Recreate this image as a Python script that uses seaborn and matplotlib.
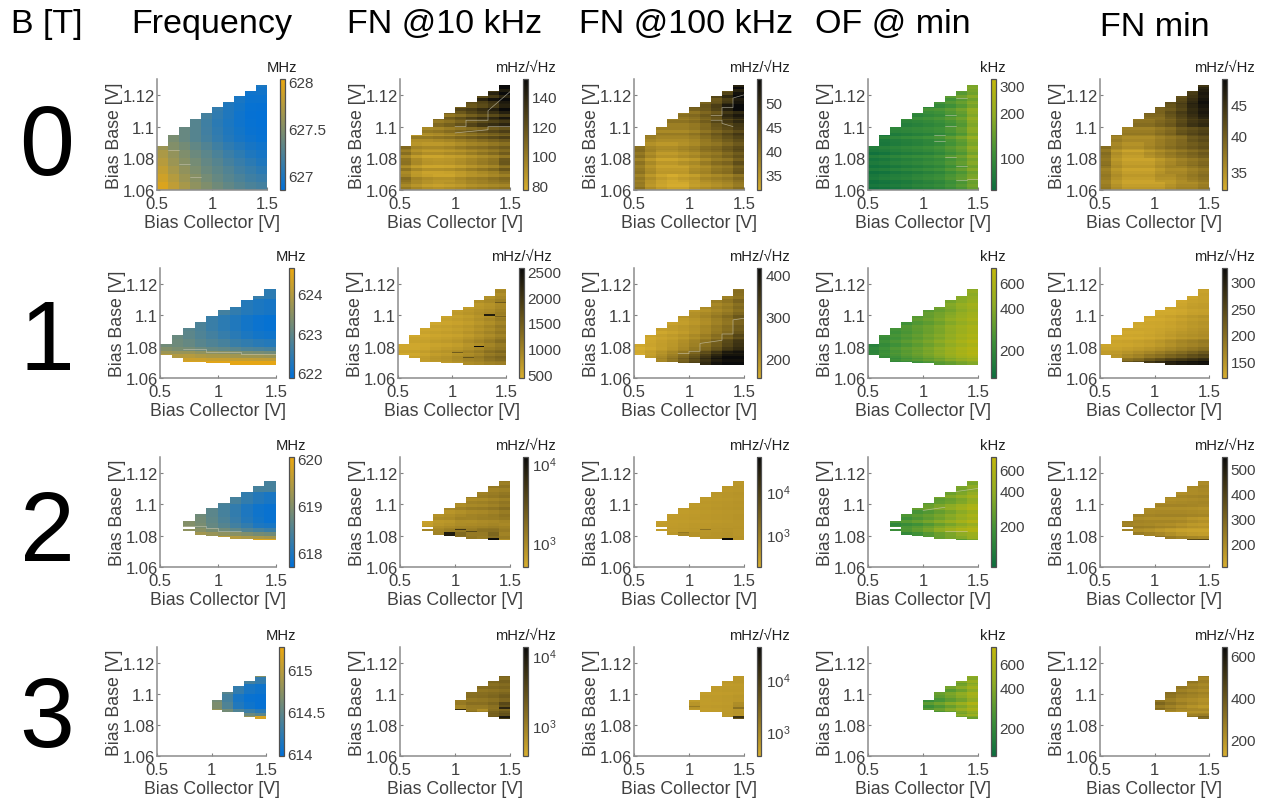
import numpy as np
import pandas as pd
import matplotlib
matplotlib.use("Agg")
import matplotlib.pyplot as plt
import seaborn as sns
from matplotlib.colors import LinearSegmentedColormap, LogNorm, Normalize

n = np.nan

FIELD_LABELS = ["0", "1", "2", "3"]
COLUMN_TITLES = ["Frequency", "FN @10 kHz", "FN @100 kHz", "OF @ min", "FN min"]

# Outline of the measured region, one value per 0.1 V collector column
TOPS_B0 = [1.0875, 1.0945, 1.0995, 1.105, 1.1085, 1.1125, 1.1155, 1.1195, 1.1225, 1.1265]
BOTTOMS_B0 = [1.06] * 10
TOPS_B1 = [1.0816, 1.0876, 1.0918, 1.0954, 1.0997, 1.1028, 1.1056, 1.1096, 1.1126, 1.1166]
BOTTOMS_B1 = [1.0746, 1.0727, 1.0706, 1.0706, 1.0695, 1.0695, 1.0687, 1.0687, 1.0687, 1.0687]
TOPS_B2 = [n, n, 1.0888, 1.0934, 1.0976, 1.1008, 1.1046, 1.1078, 1.1114, 1.1146]
BOTTOMS_B2 = [n, n, 1.0828, 1.0807, 1.0797, 1.079, 1.078, 1.078, 1.0771, 1.0771]
TOPS_B3 = [n, n, n, n, n, 1.0958, 1.1009, 1.1051, 1.1078, 1.1117]
BOTTOMS_B3 = [n, n, n, n, n, 1.0893, 1.0885, 1.0878, 1.0851, 1.0836]

# Bias base bands of the value tables, top to bottom
EDGES_B0 = [1.13, 1.125, 1.12, 1.115, 1.11, 1.105, 1.10, 1.095, 1.09, 1.085, 1.08, 1.075, 1.07, 1.065, 1.06]
EDGES_B1 = [1.12, 1.11, 1.10, 1.09, 1.085, 1.08, 1.077, 1.075, 1.073, 1.071, 1.068]
EDGES_B2 = [1.116, 1.108, 1.10, 1.092, 1.088, 1.085, 1.082, 1.08, 1.078, 1.076]
EDGES_B3 = [1.113, 1.1105, 1.106, 1.10, 1.095, 1.09, 1.0875, 1.0855, 1.083]

FREQ_B0 = [
    [n, n, n, n, n, n, n, n, n, 626.98],
    [n, n, n, n, n, n, n, n, 626.92, 626.93],
    [n, n, n, n, n, n, 627.03, 626.97, 626.90, 626.90],
    [n, n, n, n, n, 627.10, 627.00, 626.94, 626.88, 626.87],
    [n, n, n, n, 627.18, 627.08, 627.00, 626.92, 626.87, 626.86],
    [n, n, n, 627.27, 627.16, 627.06, 626.98, 626.92, 626.88, 626.86],
    [n, n, 627.36, 627.27, 627.17, 627.08, 627.00, 626.94, 626.89, 626.87],
    [n, 627.45, 627.36, 627.27, 627.18, 627.10, 627.02, 626.96, 626.91, 626.88],
    [627.62, 627.50, 627.42, 627.33, 627.25, 627.16, 627.08, 627.02, 626.96, 626.92],
    [627.70, 627.58, 627.48, 627.38, 627.30, 627.22, 627.14, 627.07, 627.00, 626.96],
    [627.76, 627.62, 627.52, 627.43, 627.34, 627.27, 627.19, 627.12, 627.06, 627.00],
    [627.82, 627.68, 627.57, 627.47, 627.38, 627.31, 627.24, 627.17, 627.11, 627.06],
    [627.88, 627.75, 627.62, 627.52, 627.43, 627.35, 627.28, 627.22, 627.16, 627.12],
    [627.94, 627.80, 627.68, 627.56, 627.48, 627.40, 627.33, 627.27, 627.22, 627.18],
]
FN10_B0 = [
    [n, n, n, n, n, n, n, n, n, 145],
    [n, n, n, n, n, n, n, n, 135, 148],
    [n, n, n, n, n, n, 125, 130, 138, 150],
    [n, n, n, n, n, 118, 122, 128, 135, 148],
    [n, n, n, n, 110, 115, 122, 128, 132, 140],
    [n, n, n, 102, 106, 112, 118, 124, 128, 132],
    [n, n, 98, 100, 104, 108, 112, 116, 120, 124],
    [n, 94, 94, 96, 98, 102, 106, 110, 114, 118],
    [104, 92, 90, 90, 92, 96, 100, 102, 106, 110],
    [100, 90, 86, 86, 88, 90, 94, 98, 102, 108],
    [100, 90, 85, 84, 85, 88, 92, 96, 100, 112],
    [96, 88, 84, 84, 85, 88, 92, 96, 100, 108],
    [102, 92, 88, 86, 86, 90, 94, 96, 100, 104],
    [98, 92, 88, 86, 88, 90, 94, 96, 98, 100],
]
FN100_B0 = [
    [n, n, n, n, n, n, n, n, n, 50],
    [n, n, n, n, n, n, n, n, 46, 53],
    [n, n, n, n, n, n, 43, 45, 49, 54],
    [n, n, n, n, n, 42, 43, 46, 51, 54],
    [n, n, n, n, 40, 41, 43, 45, 50, 52],
    [n, n, n, 39, 39, 40, 42, 45, 47, 49],
    [n, n, 38, 38, 38, 39, 41, 43, 45, 47],
    [n, 38, 37, 37, 37, 38, 40, 42, 44, 46],
    [40, 37, 36, 36, 37, 38, 40, 41, 43, 45],
    [40, 37, 35, 35, 36, 37, 39, 40, 42, 44],
    [39, 36, 34, 34, 35, 36, 38, 40, 41, 44],
    [39, 36, 34, 34, 34, 36, 37, 39, 40, 43],
    [39, 36, 34, 33, 34, 35, 37, 38, 39, 41],
    [40, 36, 34, 33, 33, 35, 36, 37, 38, 40],
]
OF_B0 = [
    [n, n, n, n, n, n, n, n, n, 150],
    [n, n, n, n, n, n, n, n, 130, 155],
    [n, n, n, n, n, n, 105, 117, 135, 160],
    [n, n, n, n, n, 98, 103, 115, 135, 170],
    [n, n, n, n, 92, 97, 103, 117, 135, 180],
    [n, n, n, 88, 92, 97, 104, 117, 135, 185],
    [n, n, 82, 85, 88, 92, 98, 111, 130, 175],
    [n, 76, 80, 84, 88, 94, 102, 120, 140, 180],
    [72, 76, 80, 84, 88, 94, 102, 117, 135, 175],
    [71, 74, 80, 84, 88, 92, 100, 115, 132, 170],
    [70, 73, 78, 82, 86, 92, 98, 113, 130, 165],
    [70, 72, 76, 80, 84, 90, 96, 111, 128, 160],
    [68, 72, 75, 78, 84, 90, 96, 110, 125, 155],
    [68, 70, 74, 78, 84, 88, 94, 107, 122, 150],
]
FNMIN_B0 = [
    [n, n, n, n, n, n, n, n, n, 45],
    [n, n, n, n, n, n, n, n, 43, 47],
    [n, n, n, n, n, n, 41, 42, 45, 48],
    [n, n, n, n, n, 40, 41, 43, 46, 48],
    [n, n, n, n, 39, 39, 41, 43, 45, 47],
    [n, n, n, 38, 38, 39, 40, 42, 44, 45],
    [n, n, 37, 37, 37, 38, 39, 41, 42, 43],
    [n, 37, 36, 36, 36, 37, 38, 39, 41, 42],
    [38, 36, 35, 35, 36, 37, 38, 39, 40, 41],
    [38, 35, 34, 34, 35, 36, 37, 38, 39, 40],
    [38, 35, 34, 34, 34, 35, 36, 37, 38, 39],
    [37, 35, 34, 34, 34, 35, 36, 36, 37, 38],
    [37, 35, 34, 34, 34, 35, 35, 36, 37, 38],
    [37, 35, 34, 34, 34, 34, 35, 36, 36, 37],
]

FREQ_B1 = [
    [n, n, n, n, n, n, n, n, 622.5, 622.4],
    [n, n, n, n, n, 622.65, 622.45, 622.3, 622.2, 622.15],
    [n, n, 622.9, 622.75, 622.55, 622.4, 622.25, 622.1, 622.0, 621.95],
    [n, 623.1, 622.95, 622.8, 622.65, 622.5, 622.35, 622.2, 622.1, 622.05],
    [623.2, 623.15, 623.05, 622.9, 622.8, 622.7, 622.55, 622.45, 622.35, 622.3],
    [623.4, 623.3, 623.25, 623.15, 623.05, 623.0, 622.9, 622.8, 622.75, 622.7],
    [623.7, 623.65, 623.65, 623.55, 623.5, 623.45, 623.35, 623.3, 623.25, 623.2],
    [624.0, 623.95, 624.0, 623.9, 623.85, 623.85, 623.75, 623.7, 623.7, 623.65],
    [624.2, 624.2, 624.25, 624.25, 624.2, 624.2, 624.15, 624.15, 624.1, 624.1],
    [624.3, 624.3, 624.4, 624.4, 624.5, 624.5, 624.55, 624.55, 624.55, 624.55],
]
FN10_B1 = [
    [n, n, n, n, n, n, n, n, 800, 900],
    [n, n, n, n, n, 620, 680, 760, 830, 950],
    [n, n, 560, 570, 600, 640, 700, 800, 900, 1050],
    [n, 540, 540, 570, 600, 640, 720, 820, 920, 1050],
    [540, 540, 560, 600, 630, 680, 780, 880, 1000, 1150],
    [530, 540, 570, 640, 700, 750, 850, 950, 1100, 1200],
    [540, 550, 600, 680, 720, 800, 900, 1000, 1150, 1250],
    [540, 560, 620, 700, 750, 850, 950, 1050, 1200, 1300],
    [540, 560, 640, 720, 760, 850, 950, 1000, 1150, 1250],
    [540, 560, 620, 680, 720, 800, 900, 950, 1050, 1100],
]
FN100_B1 = [
    [n, n, n, n, n, n, n, n, 230, 250],
    [n, n, n, n, n, 195, 205, 220, 235, 260],
    [n, n, 175, 178, 185, 195, 210, 230, 250, 280],
    [n, 165, 172, 180, 190, 205, 225, 250, 275, 310],
    [160, 165, 175, 185, 200, 220, 245, 275, 310, 340],
    [158, 170, 185, 200, 220, 245, 275, 310, 350, 375],
    [160, 175, 195, 215, 240, 270, 305, 345, 385, 395],
    [160, 180, 205, 230, 260, 295, 335, 375, 405, 405],
    [160, 185, 215, 245, 280, 315, 355, 390, 410, 410],
    [160, 190, 220, 250, 285, 320, 360, 395, 410, 410],
]
OF_B1 = [
    [n, n, n, n, n, n, n, n, 380, 420],
    [n, n, n, n, n, 290, 320, 360, 420, 480],
    [n, n, 230, 250, 280, 310, 350, 410, 470, 530],
    [n, 215, 235, 260, 290, 330, 370, 430, 500, 560],
    [190, 215, 240, 270, 300, 340, 390, 450, 520, 590],
    [190, 220, 250, 280, 310, 350, 400, 470, 540, 600],
    [190, 225, 255, 285, 320, 360, 410, 480, 550, 610],
    [190, 215, 240, 270, 300, 340, 390, 450, 520, 570],
    [190, 195, 215, 240, 265, 295, 330, 380, 430, 480],
    [180, 180, 190, 205, 225, 250, 280, 310, 350, 390],
]
FNMIN_B1 = [
    [n, n, n, n, n, n, n, n, 130, 135],
    [n, n, n, n, n, 125, 125, 128, 135, 138],
    [n, n, 125, 125, 126, 128, 132, 138, 145, 150],
    [n, 126, 126, 127, 130, 135, 142, 150, 155, 160],
    [130, 128, 130, 133, 138, 145, 155, 165, 172, 180],
    [135, 135, 140, 145, 152, 160, 170, 180, 190, 200],
    [140, 142, 150, 158, 168, 178, 190, 200, 212, 225],
    [145, 150, 165, 175, 190, 200, 215, 225, 240, 250],
    [150, 165, 195, 205, 225, 240, 255, 265, 275, 285],
    [150, 180, 225, 240, 265, 280, 295, 305, 310, 315],
]

FREQ_B2 = [
    [n, n, n, n, n, n, 618.4, 618.4],
    [n, n, n, 618.5, 618.4, 618.2, 618.05, 617.95],
    [n, 618.8, 618.6, 618.4, 618.2, 618.0, 617.85, 617.8],
    [619.0, 618.85, 618.65, 618.45, 618.25, 618.05, 617.9, 617.8],
    [619.0, 618.9, 618.7, 618.55, 618.35, 618.2, 618.0, 617.95],
    [619.1, 619.05, 618.9, 618.8, 618.65, 618.5, 618.4, 618.3],
    [619.3, 619.3, 619.2, 619.1, 619.05, 618.95, 618.85, 618.8],
    [619.5, 619.6, 619.6, 619.55, 619.5, 619.4, 619.35, 619.3],
    [619.5, 619.6, 619.7, 619.8, 619.85, 619.85, 619.9, 619.9],
]
FN10_B2 = [
    [n, n, n, n, n, n, 1200, 1300],
    [n, n, n, 900, 1050, 1100, 1200, 1350],
    [n, 800, 850, 950, 1050, 1100, 1200, 1400],
    [680, 820, 850, 1000, 980, 1050, 1100, 1200],
    [680, 820, 880, 980, 1000, 1050, 1100, 1050],
    [900, 900, 1050, 1200, 1100, 1300, 1350, 1100],
    [800, 1200, 9000, 2000, 1450, 1450, 2100, 1200],
    [800, 950, 1200, 1500, 1350, 1200, 1600, 1200],
    [800, 800, 800, 950, 880, 880, 950, 950],
]
FN100_B2 = [
    [n, n, n, n, n, n, 400, 420],
    [n, n, n, 360, 380, 400, 420, 440],
    [n, 340, 350, 370, 390, 410, 430, 450],
    [330, 340, 350, 370, 380, 400, 420, 440],
    [330, 345, 355, 380, 390, 410, 420, 430],
    [340, 360, 380, 400, 420, 440, 460, 440],
    [340, 420, 700, 500, 450, 470, 500, 450],
    [340, 360, 400, 430, 440, 440, 480, 440],
    [330, 340, 350, 370, 380, 400, 450, 420],
]
OF_B2 = [
    [n, n, n, n, n, n, 280, 330],
    [n, n, n, 230, 260, 290, 340, 420],
    [n, 190, 215, 240, 280, 330, 400, 480],
    [165, 190, 215, 250, 295, 350, 420, 500],
    [160, 185, 205, 240, 290, 340, 400, 470],
    [160, 195, 230, 280, 350, 430, 510, 560],
    [160, 170, 200, 240, 290, 340, 410, 480],
    [160, 165, 175, 195, 230, 270, 300, 380],
    [150, 160, 165, 180, 200, 210, 250, 330],
]
FNMIN_B2 = [
    [n, n, n, n, n, n, 195, 205],
    [n, n, n, 190, 195, 200, 205, 210],
    [n, 205, 200, 205, 205, 205, 200, 195],
    [220, 210, 205, 205, 205, 200, 185, 175],
    [230, 220, 215, 205, 200, 185, 170, 165],
    [230, 195, 185, 170, 155, 145, 140, 140],
    [230, 230, 215, 200, 180, 160, 150, 145],
    [230, 240, 260, 270, 250, 230, 220, 210],
    [230, 240, 270, 310, 330, 350, 360, 370],
]

FREQ_B3 = [
    [n, n, n, n, 614.7],
    [n, n, n, 614.35, 614.25],
    [n, 614.45, 614.25, 614.1, 614.05],
    [614.6, 614.35, 614.1, 614.02, 614.0],
    [614.65, 614.4, 614.15, 614.05, 614.0],
    [614.8, 614.6, 614.4, 614.3, 614.2],
    [614.8, 614.7, 614.65, 614.55, 614.45],
    [614.8, 614.7, 614.7, 614.8, 615.15],
]
FN10_B3 = [
    [n, n, n, n, 1700],
    [n, n, n, 1500, 1700],
    [n, 1300, 1350, 1450, 1600],
    [1200, 1300, 1350, 1500, 1850],
    [950, 1200, 1200, 1450, 2800],
    [2500, 1200, 800, 1600, 2000],
    [1200, 1200, 1200, 1750, 2400],
    [1200, 1200, 1200, 2000, 5000],
]
FN100_B3 = [
    [n, n, n, n, 650],
    [n, n, n, 620, 650],
    [n, 560, 580, 600, 620],
    [560, 560, 580, 600, 640],
    [700, 570, 590, 620, 900],
    [600, 570, 580, 620, 700],
    [580, 570, 580, 640, 700],
    [580, 570, 580, 700, 5000],
]
OF_B3 = [
    [n, n, n, n, 400],
    [n, n, n, 340, 420],
    [n, 270, 310, 370, 470],
    [240, 270, 320, 380, 480],
    [240, 280, 340, 410, 520],
    [240, 285, 350, 420, 500],
    [230, 260, 310, 380, 450],
    [230, 240, 250, 300, 340],
]
FNMIN_B3 = [
    [n, n, n, n, 270],
    [n, n, n, 280, 255],
    [n, 300, 280, 260, 245],
    [320, 290, 260, 245, 230],
    [310, 275, 245, 220, 200],
    [280, 245, 220, 220, 220],
    [290, 275, 250, 250, 260],
    [290, 275, 265, 290, 340],
]

# Row to row scatter in percent, one entry per 2 mV from the top of each field's bands
STRIPE_FN10_B0 = [2, -3, 4, -2, 3, -4, 5, -2, -3, 4, 1, -5, 3, -1, 4, -3, 2, -4, 5, -2, -3, 3, -1, 4, -4, 2, 3, -3, 5, -2, -4, 3, 1, -3, 2]
STRIPE_FN100_B0 = [1, -1, 2, -2, 1, 2, -2, -1, 2, 1, -2, 1, -1, 2, -1, 1, -2, 2, 1, -1, -2, 1, 2, -1, 1, -2, 2, -1, 1, 2, -2, 1, -1, -2, 1]
STRIPE_OF_B0 = [3, -4, 6, 2, -3, 8, -5, 4, -6, 10, 2, -4, 7, -2, -7, 5, 3, -6, 9, -3, -5, 6, 1, -7, 8, -2, 4, -5, 7, -6, 3, 6, -4, 2, -5]
STRIPE_FNMIN_B0 = [0, 1, -1, 0, 1, -1, 0, 1, 0, -1, 1, 0, -1, 0, 1, -1, 0, 1, -1, 0, 0, 1, -1, 1, 0, -1, 0, 1, -1, 0, 1, 0, -1, 0, 1]
STRIPE_FN10_B1 = [3, -4, 5, -3, 2, 6, -4, -2, 4, 8, -3, 2, -5, 4, -2, 5, -4, 3, 7, -3, -2, 6, -5, 4, 2, -3]
STRIPE_FN100_B1 = [1, -2, 2, 1, -1, 3, -2, 1, -2, 2, 3, -1, -2, 2, 1, -3, 2, -1, 1, 2, -2, 1, -1, 2, -1, 1]
STRIPE_OF_B1 = [2, -3, 4, -2, 3, -4, 5, 2, -3, 4, -2, 3, -5, 4, 2, -3, 3, -2, 4, -4, 3, -2, 2, -3, 3, -2]
STRIPE_FNMIN_B1 = [0, 1, -1, 1, 0, -1, 1, 2, -1, 0, 1, -2, 1, 0, 2, -1, 1, -2, 2, 0, -1, 1, 0, -1, 1, 0]
STRIPE_FN10_B2 = [4, -5, 8, -6, 3, 10, -8, 5, -4, 14, -6, 4, 9, -7, -3, 6, 12, -5, 4, -4]
STRIPE_FN100_B2 = [1, -2, 2, -1, 2, 1, -2, 3, -1, 2, -2, 1, 3, -2, 1, 2, -1, -2, 2, 1]
STRIPE_OF_B2 = [4, -6, 8, 3, -5, 10, -6, -3, 8, 12, -7, 6, -4, 14, -8, 7, 4, -6, 8, -6]
STRIPE_FNMIN_B2 = [2, -2, 3, 1, -3, 4, -2, 2, 5, -4, 1, 6, -4, 3, -3, 5, -2, 3, -2, 2]
STRIPE_FN10_B3 = [5, -6, 8, -4, 7, -8, 5, 9, -7, 12, -5, -8, 10, 6, -5]
STRIPE_FN100_B3 = [1, -1, 2, -2, 1, 2, -2, 3, 1, -2, 2, -1, 1, -2, 2]
STRIPE_OF_B3 = [6, -5, 10, -6, 8, -8, 12, 5, -7, 14, -6, 9, -8, 7, -5]
STRIPE_FNMIN_B3 = [2, -3, 4, -2, 3, -4, 5, 3, -5, 8, -4, 6, -3, 4, -2]

# How strongly the scatter shows in each quantity
STRIPE_GAIN = [0, 1.5, 1.5, 1.4, 1.5]

# Single outlier cells: panel (field, column), collector column, y low, y high, value
OUTLIERS = [
    (1, 1, 7, 1.0795, 1.0805, 2550), (1, 1, 8, 1.0995, 1.1005, 2300), (1, 1, 6, 1.0725, 1.0735, 1600),
    (1, 1, 9, 1.108, 1.1085, 1500), (1, 1, 9, 1.099, 1.0995, 1400), (1, 1, 5, 1.076, 1.0765, 1500),
    (2, 1, 8, 1.0775, 1.0785, 11000), (2, 1, 5, 1.0835, 1.0845, 5000), (2, 1, 6, 1.0825, 1.083, 3500),
    (2, 2, 8, 1.0775, 1.0785, 55000), (2, 2, 6, 1.0835, 1.0845, 1500), (2, 2, 4, 1.0815, 1.0825, 1200),
    (3, 1, 9, 1.0845, 1.0855, 9000), (3, 1, 5, 1.0895, 1.09, 6000), (3, 1, 9, 1.0905, 1.0915, 7000),
    (3, 2, 9, 1.0845, 1.0855, 12000), (3, 2, 9, 1.0905, 1.0915, 2000), (3, 2, 5, 1.0915, 1.092, 1500),
]

# Pale polylines left by the sweep: panel (field, column), collector values, base values
SEAMS = [
    (0, 0, [0.6, 0.7], [1.0852, 1.0852]), (0, 0, [0.7, 0.8], [1.0765, 1.0765]), (0, 0, [0.8, 0.9], [1.068, 1.068]),
    (0, 1, [1.0, 1.1, 1.1, 1.3, 1.3, 1.5], [1.1, 1.1, 1.104, 1.104, 1.11, 1.122]),
    (0, 1, [1.0, 1.3, 1.3, 1.5], [1.096, 1.098, 1.1, 1.1]),
    (0, 2, [1.2, 1.3, 1.3, 1.4, 1.4, 1.5], [1.107, 1.107, 1.112, 1.112, 1.118, 1.12]),
    (0, 2, [1.2, 1.3, 1.3, 1.4], [1.104, 1.104, 1.102, 1.1]),
    (0, 3, [1.2, 1.3], [1.107, 1.107]), (0, 3, [1.1, 1.2], [1.095, 1.095]), (0, 3, [1.3, 1.4], [1.118, 1.118]),
    (0, 3, [1.2, 1.3], [1.081, 1.081]), (0, 3, [1.3, 1.4], [1.075, 1.075]), (0, 3, [1.4, 1.5], [1.067, 1.067]),
    (0, 3, [1.3, 1.4], [1.066, 1.066]), (0, 3, [1.1, 1.2], [1.091, 1.091]), (0, 3, [1.2, 1.3], [1.1005, 1.1005]),
    (1, 0, [0.7, 0.9, 0.9, 1.2, 1.2, 1.5], [1.0785, 1.0785, 1.0765, 1.0765, 1.075, 1.075]),
    (1, 2, [0.9, 1.0, 1.0, 1.1, 1.1, 1.3, 1.3, 1.4, 1.4, 1.5], [1.0755, 1.0755, 1.077, 1.077, 1.082, 1.084, 1.088, 1.088, 1.097, 1.098]),
    (2, 0, [0.7, 0.9, 0.9, 1.0, 1.0, 1.2], [1.086, 1.086, 1.0845, 1.0845, 1.083, 1.083]),
    (2, 3, [1.0, 1.2], [1.096, 1.098]), (2, 3, [1.3, 1.5], [1.108, 1.11]), (2, 3, [1.2, 1.4], [1.083, 1.083]),
]

# Colour scale limits and tick values of each panel
LIMITS = [
    [(626.84, 628.03), (76.8, 152), (31.9, 54.8), (60.5, 332), (32.7, 49.4)],
    [(621.87, 624.64), (436, 2564), (154, 415), (127, 756), (118.7, 326)],
    [(617.7, 620.04), (483, 11930), (182, 60000), (89, 762), (107, 547)],
    [(613.965, 615.27), (359, 12930), (340, 40340), (122.5, 796), (122, 641)],
]
LOG_SCALE = [
    [False, False, False, True, True],
    [False, False, False, True, False],
    [False, True, True, True, False],
    [False, True, True, True, False],
]
CBAR_TICKS = [
    [[627, 627.5, 628], [80, 100, 120, 140], [35, 40, 45, 50], [100, 200, 300], [35, 40, 45]],
    [[622, 623, 624], [500, 1000, 1500, 2000, 2500], [200, 300, 400], [200, 400, 600], [150, 200, 250, 300]],
    [[618, 619, 620], [1000, 10000], [1000, 10000], [200, 400, 600], [200, 300, 400, 500]],
    [[614, 614.5, 615], [1000, 10000], [1000, 10000], [200, 400, 600], [200, 400, 600]],
]
UNITS = ["MHz", "mHz/\u221aHz", "mHz/\u221aHz", "kHz", "mHz/\u221aHz"]

COLLECTOR_LABELS = ["0.5", "1", "1.5"]
COLLECTOR_TICKS = [0.5, 1.0, 1.5]
BASE_LABELS = ["1.06", "1.08", "1.1", "1.12"]
BASE_TICKS = [1.06, 1.08, 1.10, 1.12]

TABLES = [
    [FREQ_B0, FN10_B0, FN100_B0, OF_B0, FNMIN_B0],
    [FREQ_B1, FN10_B1, FN100_B1, OF_B1, FNMIN_B1],
    [FREQ_B2, FN10_B2, FN100_B2, OF_B2, FNMIN_B2],
    [FREQ_B3, FN10_B3, FN100_B3, OF_B3, FNMIN_B3],
]
STRIPES = [
    [None, STRIPE_FN10_B0, STRIPE_FN100_B0, STRIPE_OF_B0, STRIPE_FNMIN_B0],
    [None, STRIPE_FN10_B1, STRIPE_FN100_B1, STRIPE_OF_B1, STRIPE_FNMIN_B1],
    [None, STRIPE_FN10_B2, STRIPE_FN100_B2, STRIPE_OF_B2, STRIPE_FNMIN_B2],
    [None, STRIPE_FN10_B3, STRIPE_FN100_B3, STRIPE_OF_B3, STRIPE_FNMIN_B3],
]
TOPS = [TOPS_B0, TOPS_B1, TOPS_B2, TOPS_B3]
BOTTOMS = [BOTTOMS_B0, BOTTOMS_B1, BOTTOMS_B2, BOTTOMS_B3]
EDGES = [EDGES_B0, EDGES_B1, EDGES_B2, EDGES_B3]

W, H = 1268, 804
Y_TOP, Y_BOTTOM, Y_STEP = 1.13, 1.06, 0.0005
ROW_PX = [(80, 191), (269, 379), (458, 568), (648, 757)]
COL_PX = [
    [(157, 267), (160, 276), (160, 276), (157, 266)],
    [(400, 510), (398, 506), (400, 510), (400, 510)],
    [(634, 744)] * 4,
    [(868, 978)] * 4,
    [(1100, 1209)] * 4,
]

sns.set_theme(style="white")
plt.rcParams["font.family"] = ["Liberation Sans", "DejaVu Sans"]

GRAY = "#404040"
freq_cmap = LinearSegmentedColormap.from_list("freq", ["#0070d8", "#eca80f"])
noise_cmap = LinearSegmentedColormap.from_list("noise", ["#d6ad2e", "#0a0a0a"])
offset_cmap = LinearSegmentedColormap.from_list("offset", ["#0c6e3e", "#3f9138", "#8fac24", "#c4b80a"])
CMAPS = [freq_cmap, noise_cmap, noise_cmap, offset_cmap, noise_cmap]


def build_grid(row, col):
    """Expand one value table onto the fine bias base grid and clip it to the region."""
    table = np.array(TABLES[row][col], dtype=float)
    edges = np.array(EDGES[row])
    stripe = STRIPES[row][col]
    offset = 10 - table.shape[1]
    n_rows = int(round((Y_TOP - Y_BOTTOM) / Y_STEP))
    y_centers = Y_TOP - (np.arange(n_rows) + 0.5) * Y_STEP
    grid = np.full((n_rows, 10), np.nan)
    for i, y in enumerate(y_centers):
        if y >= edges[0] or y <= edges[-1]:
            continue
        band = np.searchsorted(-edges, -y) - 1
        factor = 1.0
        if stripe is not None:
            idx = min(int((edges[0] - y) / 0.002), len(stripe) - 1)
            factor = 1 + STRIPE_GAIN[col] * stripe[idx] / 100
        for c in range(offset, 10):
            if BOTTOMS[row][c] < y < TOPS[row][c]:
                grid[i, c] = table[band, c - offset] * factor
    for r, c, k, lo, hi, value in OUTLIERS:
        if r == row and c == col:
            hit = (y_centers > lo) & (y_centers < hi) & (y_centers > BOTTOMS[row][k]) & (y_centers < TOPS[row][k])
            grid[hit, k] = value
    if row == 2:
        # the gap in the first swept column at 2 T
        grid[(y_centers > 1.0843) & (y_centers < 1.0856), 2] = np.nan
    return pd.DataFrame(grid, index=np.round(y_centers, 5), columns=np.arange(10))


def to_x(v):
    return (np.asarray(v) - 0.5) / 0.1


def to_y(v):
    return (Y_TOP - np.asarray(v)) / Y_STEP


def log_label(value):
    return "$\\mathregular{10^{%d}}$" % round(np.log10(value))


fig = plt.figure(figsize=(W / 100, H / 100), dpi=100)

for row in range(4):
    top, bottom = ROW_PX[row]
    for col in range(5):
        left, right = COL_PX[col][row]
        ax = fig.add_axes([left / W, 1 - bottom / H, (right - left) / W, (bottom - top) / H])
        cax = fig.add_axes([(right + 13) / W, 1 - bottom / H, 4.5 / W, (bottom - top) / H])
        vmin, vmax = LIMITS[row][col]
        is_log = LOG_SCALE[row][col]
        norm = LogNorm(vmin, vmax) if is_log else Normalize(vmin, vmax)
        sns.heatmap(build_grid(row, col), ax=ax, cbar_ax=cax, cmap=CMAPS[col], norm=norm,
                    xticklabels=False, yticklabels=False, rasterized=True)

        for r, c, xs, ys in SEAMS:
            if r == row and c == col:
                ax.plot(to_x(xs), to_y(ys), color="#cfcbb8", lw=0.5, alpha=0.7)

        ax.set_xticks(to_x(COLLECTOR_TICKS))
        ax.set_xticklabels(COLLECTOR_LABELS)
        ax.set_yticks(to_y(BASE_TICKS))
        ax.set_yticklabels(BASE_LABELS, rotation=0)
        ax.tick_params(axis="x", direction="in", length=2, width=0.8, color="#808080", labelsize=12,
                       labelcolor=GRAY, pad=4.5, bottom=True)
        ax.tick_params(axis="y", direction="in", length=2, width=0.8, color="#808080", labelsize=12,
                       labelcolor=GRAY, pad=1.5, left=True)
        ax.set_xlabel("Bias Collector [V]", fontsize=12.8, color=GRAY, labelpad=2)
        ax.set_ylabel("Bias Base [V]", fontsize=12.8, color=GRAY, labelpad=0)
        for side in ["left", "bottom"]:
            ax.spines[side].set_visible(True)
            ax.spines[side].set_color("#8c8c8c")
            ax.spines[side].set_linewidth(1.1)
        for side in ["top", "right"]:
            ax.spines[side].set_visible(False)

        cbar = ax.collections[0].colorbar
        cbar.outline.set_linewidth(0.9)
        cbar.outline.set_edgecolor("#505050")
        cbar.outline.set_visible(True)
        ticks = CBAR_TICKS[row][col]
        cax.minorticks_off()
        cax.set_yticks(ticks)
        if is_log and max(ticks) >= 10000:
            cax.set_yticklabels([log_label(t) for t in ticks])
        else:
            cax.set_yticklabels([f"{t:g}" for t in ticks])
        cax.minorticks_off()
        cax.tick_params(axis="y", length=0, labelsize=11, labelcolor=GRAY, pad=3, right=False)
        fig.text((right + 15) / W, 1 - (top - 12) / H, UNITS[col], ha="center", va="center",
                 fontsize=10.6, color="#202020")

TITLE_X = [212, 445, 686, 893, 1155]
TITLE_Y = [24, 24, 24, 24, 28]
for x, y, title in zip(TITLE_X, TITLE_Y, COLUMN_TITLES):
    fig.text(x / W, 1 - y / H, title, ha="center", va="center", fontsize=24.5, color="black")
fig.text(47 / W, 1 - 24 / H, "B [T]", ha="center", va="center", fontsize=24.5, color="black")

LABEL_Y = [150, 345, 536, 721]
for y, label in zip(LABEL_Y, FIELD_LABELS):
    fig.text(47 / W, 1 - y / H, label, ha="center", va="center", fontsize=71, color="black")

fig.savefig("out.png", dpi=100)
